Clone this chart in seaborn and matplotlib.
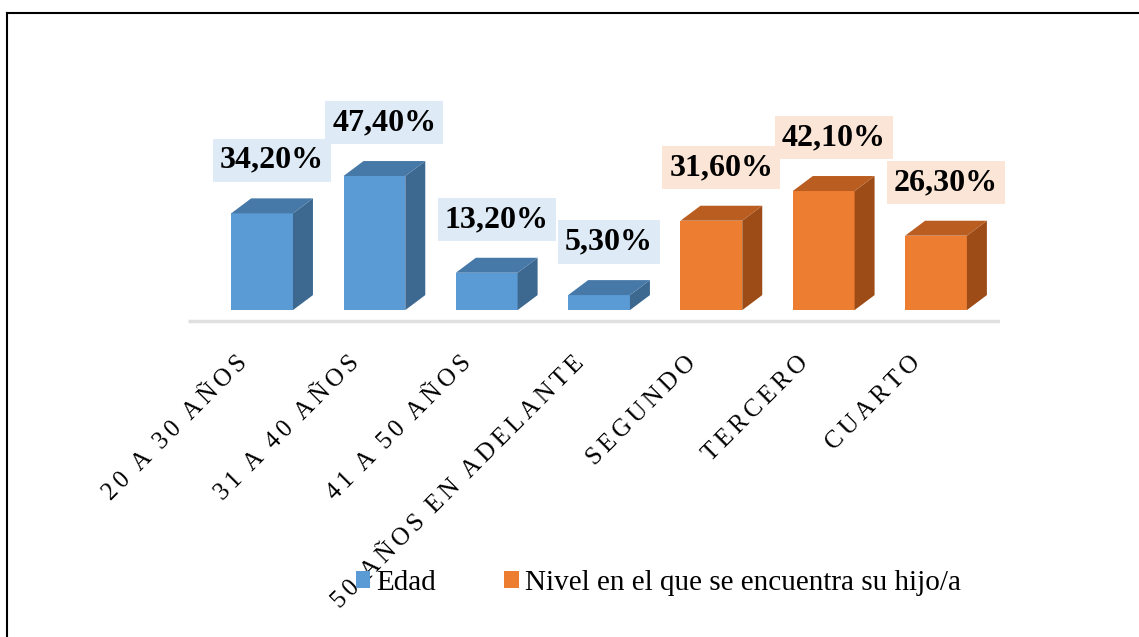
import numpy as np
import pandas as pd
import matplotlib
matplotlib.use("Agg")
import matplotlib.pyplot as plt
import seaborn as sns
from matplotlib.patches import Polygon, Patch
from matplotlib.lines import Line2D

# data
categorias = ["20 A 30 AÑOS", "31 A 40 AÑOS", "41 A 50 AÑOS", "50 AÑOS EN ADELANTE",
              "SEGUNDO", "TERCERO", "CUARTO"]
valores = [34.2, 47.4, 13.2, 5.3, 31.6, 42.1, 26.3]
grupos = ["Edad"] * 4 + ["Nivel en el que se encuentra su hijo/a"] * 3

df = pd.DataFrame({"categoria": categorias, "valor": valores, "grupo": grupos})

# styles
front = {"Edad": "#5b9bd5", "Nivel en el que se encuentra su hijo/a": "#ed7d31"}
top_c = {"Edad": "#4678a8", "Nivel en el que se encuentra su hijo/a": "#b95d20"}
side_c = {"Edad": "#3d6890", "Nivel en el que se encuentra su hijo/a": "#9d4c18"}
box_c = {"Edad": "#deebf7", "Nivel en el que se encuentra su hijo/a": "#fbe5d6"}
DX, DY = 0.178, 5.3   # depth of the fake 3D effect (data units)

serif = ["Liberation Serif", "DejaVu Serif"]
plt.rcParams["font.family"] = serif

fig = plt.figure(figsize=(11.39, 6.37), dpi=100)
ax = fig.add_axes([0.165, 0.491, 0.713, 0.444])

sns.barplot(data=df, x="categoria", y="valor", hue="grupo", dodge=False,
            palette=front, width=0.55, saturation=1, legend=False, ax=ax)

ax.set_xlim(-0.66, 6.57)
ax.set_ylim(-5, 95)

# floor line
ax.plot([-0.66, 6.57], [-3.9, -3.9], color="#e0e0e0", lw=2.5, solid_capstyle="butt")

for cont, g in zip(ax.containers, df["grupo"].unique()):
    for p in cont.patches:
        x0, w, h = p.get_x(), p.get_width(), p.get_height()
        p.set_edgecolor("none")
        side = Polygon([(x0 + w, 0), (x0 + w + DX, DY), (x0 + w + DX, h + DY), (x0 + w, h)],
                       closed=True, fc=side_c[g], ec="none")
        top = Polygon([(x0, h), (x0 + DX, h + DY), (x0 + w + DX, h + DY), (x0 + w, h)],
                      closed=True, fc=top_c[g], ec="none")
        ax.add_patch(side)
        ax.add_patch(top)
        txt = f"{h:.2f}%".replace(".", ",")
        ax.annotate(txt, xy=(x0 + w / 2 + DX / 2, h + DY), xytext=(0, 17),
                    textcoords="offset points", ha="center", va="bottom",
                    fontsize=23, fontweight="bold", family=serif, color="black",
                    annotation_clip=False,
                    bbox=dict(boxstyle="square,pad=0.22", fc=box_c[g], ec="none"))

# letter-spaced rotated category labels
def espaciar(s):
    return "\u2002".join("\u2006".join(list(w)) for w in s.split(" "))

ax.set_xticks(range(len(categorias)))
ax.set_xticklabels([])
for i, c in enumerate(categorias):
    ax.annotate(espaciar(c), xy=(i, 0), xycoords=("data", "axes fraction"),
                xytext=(-19, -20), textcoords="offset points",
                rotation=45, ha="right", va="top", rotation_mode="anchor",
                fontsize=18, family=serif, annotation_clip=False)
ax.tick_params(axis="x", length=0, pad=0)
ax.set_yticks([])
ax.set_xlabel("")
ax.set_ylabel("")
for s in ax.spines.values():
    s.set_visible(False)

handles = [Patch(fc=front[g], ec="none", label=g) for g in df["grupo"].unique()]
fig.legend(handles=handles, loc="center", bbox_to_anchor=(0.578, 0.085), ncol=2,
           frameon=False, prop={"family": serif, "size": 21},
           handlelength=0.5, handleheight=0.5, handletextpad=0.2, columnspacing=2.35)

# outer frame
fig.add_artist(Line2D([7 / 1139, 1], [1 - 13 / 637, 1 - 13 / 637], color="black", lw=1.5))
fig.add_artist(Line2D([7 / 1139, 7 / 1139], [0, 1 - 13 / 637], color="black", lw=1.5))

fig.savefig("out.png", dpi=100)
